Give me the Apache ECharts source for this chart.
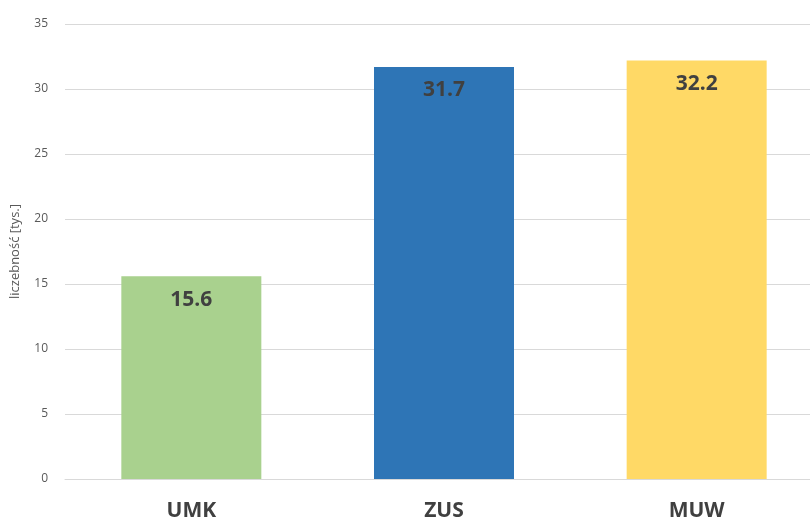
<!DOCTYPE html>
<html><head><meta charset="utf-8">
<script src="https://cdn.jsdelivr.net/npm/echarts@6/dist/echarts.min.js"></script>
<style>html,body{margin:0;padding:0;background:#fff}#c{width:810px;height:520px}</style>
</head><body><div id="c"></div>
<script>
const categories = ['UMK', 'ZUS', 'MUW'];
const values = [15.6, 31.7, 32.2];
const barColors = ['#A9D18E', '#2E75B6', '#FFD966'];
const yAxisName = 'liczebność [tys.]';

const chart = echarts.init(document.getElementById('c'), null, {renderer: 'canvas'});
chart.setOption({
  animation: false,
  grid: {left: 65, top: 24, bottom: 41, width: 758, containLabel: false, outerBoundsMode: 'none'},
  xAxis: {
    type: 'category', data: categories,
    axisLine: {show: true, lineStyle: {color: '#d9d9d9', width: 1}},
    axisTick: {show: false},
    axisLabel: {color: '#404040', fontSize: 21, fontWeight: 'bold', fontFamily: 'Open Sans', margin: 22}
  },
  yAxis: {
    type: 'value', min: 0, max: 35, interval: 5,
    name: yAxisName, nameLocation: 'middle', nameGap: 43, nameRotate: 90,
    nameTextStyle: {color: '#595959', fontSize: 13, fontFamily: 'Open Sans'},
    axisLine: {show: false}, axisTick: {show: false},
    axisLabel: {color: '#595959', fontSize: 12, fontFamily: 'Open Sans', margin: 17},
    splitLine: {lineStyle: {color: '#d9d9d9', width: 1}}
  },
  series: [{
    type: 'bar', barWidth: 140,
    data: values.map((v, i) => ({value: v, itemStyle: {color: barColors[i]}})),
    label: {show: true, position: 'insideTop', distance: 13, color: '#404040', fontSize: 21, fontWeight: 'bold', fontFamily: 'Open Sans'}
  }]
});
</script></body></html>
